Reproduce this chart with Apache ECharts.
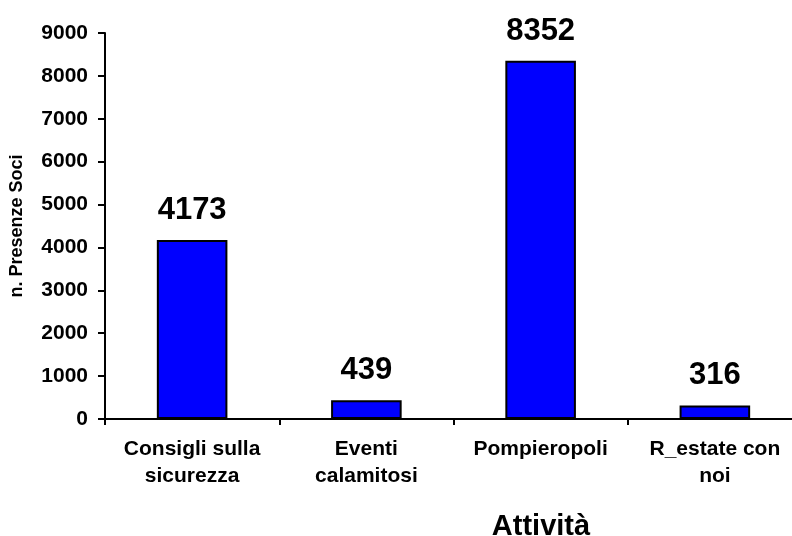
<!DOCTYPE html>
<html>
<head>
<meta charset="utf-8">
<script src="https://cdn.jsdelivr.net/npm/echarts@6/dist/echarts.min.js"></script>
<style>html,body{margin:0;padding:0;background:#fff;overflow:hidden;width:792px;height:536px;}#chart{width:812px;height:536px;}</style>
</head>
<body>
<div id="chart"></div>
<script>
const categories = ['Consigli sulla\nsicurezza', 'Eventi\ncalamitosi', 'Pompieropoli', 'R_estate con\nnoi'];
const presenze = [4173, 439, 8352, 316];
const yTitle = 'n. Presenze Soci';
const xTitle = 'Attività';

const FONT = '"Liberation Sans", Arial, sans-serif';
const chart = echarts.init(document.getElementById('chart'), null, {renderer: 'canvas'});
chart.setOption({
  animation: false,
  backgroundColor: '#ffffff',
  grid: {left: 104, top: 33, right: 10, bottom: 117, containLabel: false},
  xAxis: {
    type: 'category',
    data: categories,
    boundaryGap: true,
    axisLine: {lineStyle: {color: '#000', width: 2}},
    axisTick: {show: true, inside: false, length: 6, alignWithLabel: false, lineStyle: {color: '#000', width: 2}},
    axisLabel: {color: '#000', fontFamily: FONT, fontWeight: 'bold', fontSize: 21, lineHeight: 27, margin: 17, interval: 0},
    splitLine: {show: false}
  },
  yAxis: {
    type: 'value',
    min: 0, max: 9000, interval: 1000,
    name: yTitle,
    nameLocation: 'middle',
    nameRotate: 90,
    nameGap: 79,
    nameTextStyle: {color: '#000', fontFamily: FONT, fontWeight: 'bold', fontSize: 18},
    axisLine: {show: true, lineStyle: {color: '#000', width: 2}},
    axisTick: {show: true, inside: false, length: 7, lineStyle: {color: '#000', width: 2}},
    axisLabel: {color: '#000', fontFamily: FONT, fontWeight: 'bold', fontSize: 21, margin: 17, formatter: v => String(v)},
    splitLine: {show: false}
  },
  series: [{
    type: 'bar',
    data: presenze,
    barWidth: '40.5%',
    itemStyle: {color: '#0000FF', borderColor: '#000', borderWidth: 2},
    label: {show: true, position: 'top', distance: 14, color: '#000', fontFamily: FONT, fontWeight: 'bold', fontSize: 31, formatter: p => String(p.value)}
  }],
  graphic: [{
    type: 'text',
    x: 541, y: 512,
    style: {text: xTitle, fill: '#000', font: 'bold 29px ' + FONT, textAlign: 'center', textVerticalAlign: 'top'}
  }]
});
</script>
</body>
</html>
